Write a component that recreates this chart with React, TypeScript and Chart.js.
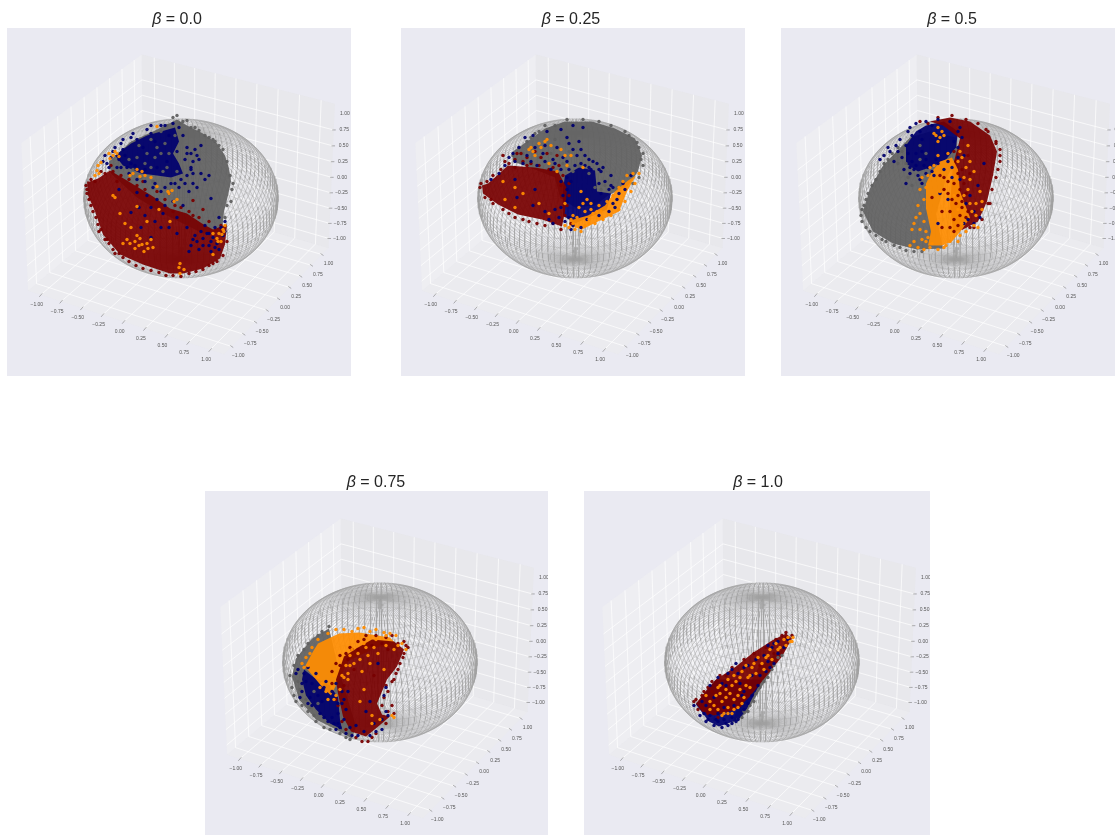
import React, { useEffect, useRef } from "react";
import { Chart, registerables } from "chart.js";

Chart.register(...registerables);

type Pt = [number, number];

// ---------- axes ----------
const tickValues = [-1, -0.75, -0.5, -0.25, 0, 0.25, 0.5, 0.75, 1];
const tickLabels = ["−1.00", "−0.75", "−0.50", "−0.25", "0.00", "0.25", "0.50", "0.75", "1.00"];
const betas = ["0.0", "0.25", "0.5", "0.75", "1.0"];

// ---------- beta = 0.0 ----------
const p1GreyRegion: Pt[] = [[-4,78],[6,72],[22,64],[36,54],[44,42],[48,29],[50,16],[47,2],[43,-14],[41,-34],[22,-36],[2,-26],[-18,-16],[-44,0],[-70,24],[-72,36],[-50,56],[-28,66]];
const p1NavyRegion: Pt[] = [[-6,70],[-2,56],[-8,44],[-2,34],[2,24],[-10,20],[-24,22],[-40,24],[-58,32],[-66,42],[-50,54],[-34,62],[-20,66]];
const p1MaroonRegion: Pt[] = [[-94,16],[-93,2],[-86,-14],[-78,-37],[-61,-57],[-38,-67],[-11,-76],[2,-76],[22,-71],[39,-61],[44,-47],[46,-27],[32,-32],[21,-26],[6,-16],[-11,-11],[-28,1],[-41,9],[-54,17],[-71,27],[-83,19],[-91,16]];
const p1Grey: Pt[] = [[-8,80],[-4,82],[2,76],[10,70],[18,67],[28,60],[38,52],[42,48],[49,22],[51,8],[50,-4],[46,36],[52,14],[46,-8],[44,-20],[14,70],[24,62],[32,58],[-14,72],[-20,66],[-26,40],[-14,30],[-40,20],[-28,16],[-10,18],[-34,44],[-6,62],[-1,74],[6,77],[34,56],[-48,28],[-30,30],[-20,44],[-44,40],[-16,54],[-36,34],[-24,50],[-12,44],[-52,38],[-30,58],[-42,52],[-18,26],[-4,26]];
const p1Navy: Pt[] = [[14,48],[18,38],[20,52],[16,42],[28,22],[24,18],[10,30],[30,-1],[12,14],[6,44],[-78,36],[-72,30],[-66,50],[-58,58],[-48,64],[-30,72],[-16,72],[-60,30],[-50,34],[22,-41],[26,-36],[30,-44],[18,-52],[34,-50],[40,-30],[42,-38],[38,-20],[14,-38],[10,-48],[24,-28],[-40,-30],[-30,-40],[-50,-15],[-20,-30],[-44,5],[-30,-10],[-18,-16],[-8,-4],[2,-8],[-62,8],[-12,-30],[6,-30],[-70,40],[-74,34],[-64,30],[-52,24],[-44,18],[-36,16],[-26,14],[-16,10],[-6,14],[6,22],[10,28],[4,38],[6,50],[2,62],[-2,70],[-8,74],[-20,72],[-34,68],[-50,60],[-60,54],[-68,46],[-56,42],[-46,32],[-36,28],[-24,30],[-14,36],[-4,46],[-26,56],[-38,50],[0,18],[-10,14],[-20,6],[-28,10],[8,6],[16,10],[20,24],[32,-40],[36,-46],[28,-36],[20,-34],[16,-44],[38,-52],[30,-54],[44,-24],[44,-34],[28,-48],[-42,-10],[-36,-18],[-26,-24],[-4,-20],[-16,-8],[-2,10],[4,14],[12,24],[-12,4],[-24,-2],[-34,2],[12,36],[10,44],[-58,48],[-44,58],[-30,64],[-12,62],[-62,38],[-76,42],[-54,30],[34,-30],[22,-48],[12,-42],[-4,-36],[8,-54]];
const p1Orange: Pt[] = [[-68,42],[-71,39],[-64,44],[-83,32],[-84,27],[-80,35],[-48,24],[-39,26],[-41,21],[-51,22],[-24,71],[-68,2],[-66,0],[-44,-9],[-61,-16],[-54,-42],[-46,-51],[-39,-47],[-34,-46],[-33,-51],[-41,-41],[-51,-46],[36,-41],[37,-44],[32,-36],[41,-37],[32,-57],[-1,-66],[-1,-76],[-9,7],[-7,-4],[-24,11],[-13,6],[-11,-24],[-34,-24],[44,-28],[43,-34],[-30,20],[-12,4],[-4,-2],[-66,46],[-62,41],[-72,44],[-82,24],[-86,22],[-46,-44],[-37,-54],[-44,-38],[-30,-42],[-42,-48],[-28,-50],[-58,-46],[-2,-70],[3,-72],[38,-36],[42,-32],[40,-44],[-44,28],[-36,22],[-56,-26],[-50,-30],[-22,-12]];
const p1Maroon: Pt[] = [[-95,12],[-94,4],[-90,-8],[-85,-20],[-80,-32],[-76,-42],[-68,-52],[-58,-60],[-45,-68],[-30,-73],[-15,-78],[0,-79],[15,-74],[28,-68],[36,-64],[-86,16],[-76,24],[-60,22],[-44,12],[-24,6],[-6,-8],[12,-18],[28,-24],[22,-12],[12,-3],[-74,-42],[-92,-2],[-88,-14],[-83,-27],[-72,-46],[-62,-56],[-52,-64],[-38,-71],[-22,-75],[-8,-78],[8,-76],[22,-72],[32,-66],[42,-58],[-90,18],[-80,26],[-68,26],[-52,18],[-36,8],[-16,-2],[0,-10],[18,-20],[40,-28],[46,-44],[-82,-34],[-66,-56],[-64,16],[-38,16],[-8,-14],[8,-14],[-94,8],[-70,32]];

// ---------- beta = 0.25 ----------
const p2GreyRegion: Pt[] = [[-30,69],[-10,76],[17,76],[40,69],[60,59],[67,42],[63,26],[53,12],[33,2],[20,-8],[0,-10],[-15,0],[-20,20],[-40,28],[-62,36],[-62,46],[-48,56]];
const p2NavyRegion: Pt[] = [[4,30],[20,27],[22,6],[36,4],[32,-12],[18,-18],[0,-26],[-12,-18],[-12,8],[-10,22]];
const p2OrangeRegion: Pt[] = [[61,22],[52,6],[44,-14],[23,-24],[7,-32],[-6,-28],[-5,-23],[13,-18],[30,-8],[40,6],[53,17]];
const p2MaroonRegion: Pt[] = [[-93,12],[-92,4],[-77,-7],[-57,-17],[-33,-22],[-13,-29],[-10,-14],[-8,9],[-17,26],[-40,30],[-67,32],[-78,22],[-87,14]];
const p2Grey: Pt[] = [[-40,64],[-48,56],[-20,58],[-6,46],[-24,44],[-36,40],[4,32],[14,24],[-30,72],[66,38],[68,32],[62,55],[50,66],[-52,44],[-12,34],[-20,72],[-8,78],[8,78],[24,76],[36,72],[54,62],[64,50],[68,44],[64,20],[58,14],[-36,66],[-44,60],[-56,50],[-62,42],[20,10],[26,8],[-2,26],[30,12],[42,10],[-28,58],[-18,50]];
const p2Navy: Pt[] = [[-56,50],[-62,44],[-50,60],[-42,62],[-28,66],[-14,68],[-2,72],[8,70],[-8,60],[-30,52],[-22,38],[-12,40],[-2,48],[14,38],[26,26],[24,14],[16,28],[-76,24],[-66,40],[-84,18],[-20,-12],[-30,-14],[-42,-8],[-58,0],[-40,8],[-60,18],[38,10],[44,4],[48,14],[56,22],[-22,-26],[-70,32],[-60,36],[-48,42],[-40,50],[-32,44],[-18,50],[-8,36],[2,42],[10,32],[18,36],[28,30],[30,16],[36,12],[42,-2],[-14,28],[-20,34],[-4,16],[-14,16],[-12,2],[-14,-10],[-16,-20],[-26,-22],[-10,-24],[-4,-32],[6,-30],[40,-10],[50,8],[-30,36],[-44,36],[-52,34],[-6,54],[6,48],[4,56],[-8,-4],[-8,8],[-8,20],[0,32],[6,34],[14,30],[24,28],[26,4],[34,8],[38,-6],[34,-14],[24,-18],[12,-22],[-2,-28],[-6,-20],[-6,28],[10,42],[22,34],[36,22],[-24,28],[-38,32]];
const p2Orange: Pt[] = [[-46,48],[-40,42],[-34,50],[-36,54],[-28,58],[-24,52],[-14,48],[-4,42],[-8,32],[8,30],[-18,26],[-26,34],[-60,10],[-72,16],[-52,4],[-36,-6],[-26,-16],[4,-10],[8,-6],[12,-2],[2,-20],[-2,-26],[16,-12],[14,-22],[22,-14],[-70,-2],[-10,-6],[6,6],[-44,50],[-42,46],[-30,56],[-10,42],[52,22],[58,24],[48,16],[-6,-30],[0,-32],[6,-34],[10,-28],[-4,-22],[20,-26],[28,-22],[36,-18],[44,-12],[50,-4],[56,6],[60,14],[64,24],[-10,-28],[-2,-18],[10,-14],[-60,-10],[16,-6],[24,-8],[18,-16],[32,-4],[38,2],[44,10],[14,-26],[26,-14]];
const p2Maroon: Pt[] = [[-95,10],[-90,0],[-82,-6],[-72,-12],[-60,-20],[-46,-24],[-30,-28],[-14,-32],[-54,44],[-44,34],[-34,40],[-26,28],[-16,32],[-60,38],[-72,42],[-40,46],[-94,14],[-88,16],[-82,22],[-74,28],[-66,34],[-52,36],[-36,32],[-22,30],[-12,22],[-6,14],[-6,2],[-8,-8],[-84,-2],[-66,-16],[-52,-22],[-38,-26],[-22,-26],[-70,36],[-48,40],[-28,44],[-58,44],[-18,42],[-4,-26],[-60,30],[-48,32],[-14,12],[-10,-18]];

// ---------- beta = 0.5 ----------
const p3GreyRegion: Pt[] = [[-46,60],[-73,32],[-86,9],[-93,-14],[-83,-34],[-63,-46],[-39,-52],[-13,-51],[-20,-17],[-10,19],[2,40],[0,60],[-26,66]];
const p3NavyRegion: Pt[] = [[-30,72],[-12,76],[2,66],[0,50],[-10,38],[-26,30],[-38,26],[-50,34],[-50,52],[-40,66]];
const p3MaroonRegion: Pt[] = [[-26,76],[-6,80],[14,76],[34,62],[41,46],[37,22],[31,-4],[22,-24],[7,-32],[-3,-34],[-6,-7],[-3,32],[4,59],[-13,72]];
const p3OrangeRegion: Pt[] = [[-16,36],[-4,40],[2,28],[4,6],[14,-20],[6,-32],[-4,-44],[-14,-48],[-28,-48],[-25,-34],[-30,-11],[-30,14],[-24,26]];
const p3Grey: Pt[] = [[-92,-8],[-95,-18],[-90,-30],[-80,-38],[-70,-44],[-56,-50],[-42,-54],[-88,4],[-80,18],[-72,34],[-64,44],[-94,-24],[-86,-34],[-74,-42],[-62,-48],[-50,-53],[-34,-54],[-90,-2],[-84,12],[-76,26],[-68,38],[-58,50],[-94,-12],[-58,34],[-48,20],[-44,12],[-36,38],[-54,46],[-36,52],[-30,44],[-50,34]];
const p3Navy: Pt[] = [[-72,42],[-76,38],[-60,52],[-46,70],[-40,32],[-46,24],[-50,14],[-34,14],[-22,22],[-16,4],[-8,-2],[4,18],[10,-6],[14,2],[12,-22],[8,-26],[18,-14],[22,12],[28,34],[24,-20],[-18,-26],[-4,20],[8,42],[18,-26],[-66,46],[-56,58],[-48,66],[-40,74],[-30,76],[-18,78],[-6,76],[4,70],[6,60],[2,50],[2,40],[-8,36],[-18,34],[-30,24],[-38,22],[-46,30],[-54,40],[-58,46],[-62,36],[-36,18],[-52,28],[-12,28],[-24,26],[-4,30],[-44,36],[-68,50],[-30,38],[-50,52],[-44,62],[-36,66],[-34,46],[-40,44],[-48,44],[-28,30],[-20,38],[-10,44],[-2,56],[2,66],[-34,58],[-24,72],[-14,66],[-42,28],[-32,32]];
const p3Orange: Pt[] = [[-20,62],[-16,60],[-22,64],[-14,66],[-40,-20],[-36,-32],[-30,-44],[-26,-50],[-44,-32],[-46,-48],[-32,-52],[-18,-52],[-10,-48],[2,-44],[6,40],[10,30],[14,18],[18,26],[20,-6],[26,-12],[12,52],[-2,2],[2,-12],[-16,6],[-18,70],[-12,62],[-18,56],[-34,20],[-36,8],[-38,-8],[-36,-16],[-32,-24],[-26,30],[-18,42],[-8,44],[4,46],[2,36],[8,20],[12,8],[14,-6],[20,-18],[18,-28],[10,-34],[4,-38],[-6,-44],[-24,-46],[-38,-50],[-42,-44],[-28,-40],[24,6],[22,-30],[26,-4],[-42,-26],[14,36],[-32,-2],[-30,10],[-28,22],[-22,32],[-30,-34],[-34,-42],[-12,-50],[6,-26],[16,-14],[8,2]];
const p3Maroon: Pt[] = [[2,24],[4,8],[-4,-2],[6,-10],[10,-20],[-2,-22],[14,-30],[0,36],[-8,16],[8,14],[44,36],[44,48],[30,68],[40,56],[34,-6],[42,28],[-14,-14],[-24,0],[12,42],[-12,20],[-28,74],[-36,76],[-18,80],[-4,82],[10,78],[22,74],[32,66],[40,54],[44,42],[40,20],[36,8],[32,-6],[26,-22],[18,-30],[6,-4],[12,-14],[2,-28],[10,4],[14,24],[6,28],[-2,46],[-6,-14],[0,-6],[-16,22],[4,-18],[-2,14],[-8,4],[-2,-34],[-6,-30],[-14,-30],[-12,8],[2,2]];

// ---------- beta = 0.75 ----------
const p4GreyRegion: Pt[] = [[-51,33],[-68,23],[-84,3],[-88,-15],[-81,-38],[-64,-58],[-44,-68],[-28,-77],[-24,-65],[-41,-9]];
const p4NavyRegion: Pt[] = [[-76,-8],[-66,-16],[-50,-24],[-42,-36],[-40,-58],[-38,-68],[-50,-62],[-64,-48],[-74,-34],[-78,-18]];
const p4OrangeRegion: Pt[] = [[-62,18],[-41,28],[-21,29],[10,24],[20,13],[-1,15],[-31,1],[-43,-22],[-49,-34],[-59,-24],[-75,-5],[-67,10]];
const p4MaroonRegion: Pt[] = [[-8,22],[14,20],[24,12],[17,-5],[7,-18],[-3,-42],[2,-53],[10,-55],[-3,-66],[-14,-75],[-29,-70],[-37,-55],[-42,-32],[-44,-18],[-36,5],[-22,14]];
const p4Grey: Pt[] = [[-51,35],[-58,30],[-72,18],[-86,-4],[-88,-26],[-84,-40],[-72,-50],[-56,-66],[-40,-72],[-66,-30],[-70,-46],[-62,26],[-76,12],[-82,6],[-90,-14],[-86,-34],[-78,-44],[-64,-60],[-50,-68],[-34,-76],[-80,-28],[-74,-38],[-62,-42],[-30,-78],[-82,-20],[-66,-54]];
const p4Navy: Pt[] = [[-82,-8],[-74,-20],[-70,-36],[-58,-40],[-48,-56],[-42,-62],[-34,-72],[-22,-74],[-10,-74],[-6,-62],[2,-58],[-16,-70],[-14,-50],[-10,-40],[4,-34],[6,-26],[-2,-2],[-32,-30],[-38,-42],[8,-54],[-84,-12],[-78,-22],[-78,-30],[-68,-44],[-60,-52],[-52,-60],[-44,-68],[-36,-58],[-34,-48],[-36,-38],[-38,-30],[-44,-22],[-54,-20],[-64,-12],[-72,-6],[-30,-66],[-28,-74],[-24,-64],[-4,-70],[2,-68],[6,-50],[-76,-12],[-68,-22],[-56,-26],[-48,-30],[-42,-42],[-42,-52],[-80,-36],[-72,-42],[-62,-34],[-56,-56],[-46,-62],[-40,-66]];
const p4Orange: Pt[] = [[-22,33],[-10,30],[4,29],[-28,30],[-36,32],[10,28],[18,16],[-14,14],[-22,8],[-4,22],[-48,-26],[-44,-34],[-52,-38],[-30,-4],[-32,-12],[-8,-62],[12,-54],[14,-56],[0,-58],[-20,-40],[-18,-10],[-2,8],[-10,-2],[-62,22],[-52,28],[-44,32],[-68,14],[-74,4],[-78,-2],[-58,-22],[-46,-14],[-36,-16],[-40,-28],[22,18],[26,12],[16,26],[-16,34],[-4,32],[-30,6],[-26,-2],[-20,2],[-12,6],[-8,-54],[-16,-28],[4,-8],[-70,8],[-72,-4],[-62,-16],[-54,-30],[-46,-38],[-38,-14],[-34,-4],[-28,12],[-16,18],[-6,14],[6,16],[14,12],[-60,-26],[-76,-6],[6,26],[-32,-18]];
const p4Maroon: Pt[] = [[26,16],[24,8],[20,-2],[16,-12],[12,-20],[8,-30],[2,-44],[8,-50],[-4,-72],[-12,-80],[-24,-76],[-34,-68],[-4,26],[6,24],[-28,12],[-34,8],[-40,-4],[-30,14],[-48,-10],[-16,22],[23,4],[18,-8],[14,-18],[6,-24],[4,-36],[12,-44],[14,-52],[6,-62],[-8,-76],[-18,-80],[-38,-60],[-42,-44],[-44,-38],[-48,-22],[28,14],[24,20],[12,26],[-14,26],[-22,20],[-32,2],[-26,-8],[-6,-14],[-8,16],[2,18],[-40,6],[-44,-2],[-36,-24],[-22,12],[8,12],[18,18]];

// ---------- beta = 1.0 ----------
const p5GreyRegion: Pt[] = [[24,15],[4,-18],[-16,-52],[-30,-62],[-23,-42],[-3,-5]];
const p5NavyRegion: Pt[] = [[-66,-43],[-53,-60],[-43,-65],[-23,-58],[-15,-47],[0,-18],[-46,-18]];
const p5MaroonRegion: Pt[] = [[30,23],[24,28],[10,21],[-10,8],[-26,-5],[-46,-18],[-55,-28],[-66,-42],[-60,-50],[-48,-54],[-26,-48],[-13,-36],[4,-15],[20,5]];
const p5Grey: Pt[] = [[2,-20],[-6,-32],[-12,-44],[-18,-50],[-24,-58],[10,-8],[16,4],[-2,-26],[6,-16],[-14,-50],[-8,-40],[12,-4],[20,6],[-20,-56]];
const p5Navy: Pt[] = [[-68,-44],[-62,-54],[-56,-60],[-48,-64],[-40,-66],[-30,-62],[-24,-58],[-44,-60],[-36,-62],[-52,-54],[-18,-48],[-10,-34],[-4,-24],[4,-10],[12,-2],[22,14],[10,14],[2,6],[16,20],[-14,-4],[-30,-8],[-44,-16],[-52,-24],[-60,-40],[-22,-22],[-10,-14],[6,0],[26,22],[-34,-64],[-26,-60],[-54,-58],[-58,-52],[-46,-58],[-30,-56],[-38,-58],[-44,-52],[-18,-30],[-48,-36],[-36,-24],[-26,-2],[-6,2],[-2,-14],[16,8],[12,18],[6,16],[-38,-46],[-14,-42],[-56,-44],[8,-6],[-24,-12],[-34,-12],[-18,-6],[-40,-22],[-20,-34],[-28,-44]];
const p5Orange: Pt[] = [[31,24],[28,20],[24,16],[26,24],[14,18],[16,12],[8,12],[4,4],[-4,4],[-8,-2],[-16,-4],[-20,-10],[-12,-14],[-28,-14],[-34,-18],[-42,-24],[-36,-28],[-30,-24],[-22,-28],[-46,-34],[-52,-40],[-40,-40],[-34,-46],[-28,-38],[-24,-46],[-18,-36],[-12,-26],[-6,-12],[-44,-48],[-30,-52],[-56,-34],[-40,-54],[2,-8],[10,2],[-26,-20],[-36,-36],[-42,-32],[-32,-32],[-48,-44],[-38,-52],[-24,-34],[-16,-24],[-10,-6],[0,-2],[6,6],[18,14],[22,22],[30,20],[-22,-16],[-44,-26],[-20,-42],[-34,-52],[-52,-48],[-28,-48],[-14,-16]];
const p5Maroon: Pt[] = [[24,29],[20,26],[-54,-26],[-60,-34],[-66,-38],[-64,-48],[-50,-30],[-38,-34],[-26,-32],[-14,-20],[-2,-4],[-22,-44],[-46,-44],[-36,-14],[12,8],[-68,-40],[-58,-30],[-50,-20],[-42,-14],[-30,-6],[-18,2],[-8,8],[4,14],[14,22],[24,24],[30,26],[-60,-46],[-54,-52],[-44,-56],[-32,-48],[-40,-28]];

// ---------- one record per panel ----------
const greys = [p1Grey, p2Grey, p3Grey, p4Grey, p5Grey];
const navies = [p1Navy, p2Navy, p3Navy, p4Navy, p5Navy];
const oranges = [p1Orange, p2Orange, p3Orange, p4Orange, p5Orange];
const maroons = [p1Maroon, p2Maroon, p3Maroon, p4Maroon, p5Maroon];
const C = { grey: "#606060", navy: "#00006e", orange: "#ff8c00", maroon: "#780000" };
const regionLists: [Pt[], string][][] = [
  [[p1GreyRegion, C.grey], [p1NavyRegion, C.navy], [p1MaroonRegion, C.maroon]],
  [[p2GreyRegion, C.grey], [p2NavyRegion, C.navy], [p2OrangeRegion, C.orange], [p2MaroonRegion, C.maroon]],
  [[p3GreyRegion, C.grey], [p3NavyRegion, C.navy], [p3MaroonRegion, C.maroon], [p3OrangeRegion, C.orange]],
  [[p4GreyRegion, C.grey], [p4NavyRegion, C.navy], [p4OrangeRegion, C.orange], [p4MaroonRegion, C.maroon]],
  [[p5GreyRegion, C.grey], [p5NavyRegion, C.navy], [p5MaroonRegion, C.maroon]],
];

// left, top, width, height of each panel, then the sphere centre and the title centre
const panels = [
  { l: 7, t: 28, w: 344, h: 348, cx: 181, cy: 197.5, tx: 177 },
  { l: 401, t: 28, w: 344, h: 348, cx: 575, cy: 197.5, tx: 571 },
  { l: 781, t: 28, w: 344, h: 348, cx: 956, cy: 197.5, tx: 952 },
  { l: 205, t: 491, w: 343, h: 348, cx: 380, cy: 661.5, tx: 376 },
  { l: 584, t: 491, w: 346, h: 348, cx: 762, cy: 661.5, tx: 758 },
];
const TITLE_BAND = 28;

// ---------- the axes' own 3D projection (elevation 30, azimuth -60) ----------
const LIM = 1.157;
const BOX = [1.1429, 1.1429, 0.8572];
const UNITS = 1965;
const nV = [0.433, -0.75, 0.5];
const uV = [0.866, 0.5, 0];
const vV = [-0.25, 0.433, 0.866];
const dot = (a: number[], b: number[]) => a[0] * b[0] + a[1] * b[1] + a[2] * b[2];
function project(x: number, y: number, z: number) {
  const p = [x, y, z].map((c, i) => ((c + LIM) / (2 * LIM) - 0.5) * BOX[i]);
  const d = 10 - dot(p, nV);
  return { x: (dot(p, uV) / d) * UNITS, y: (dot(p, vV) / d) * UNITS };
}
const GAP = { x: NaN, y: NaN };
const xyz = (a: number[][]) => a.map(([x, y, z]) => project(x, y, z));

// The guide sphere is the unit sphere of the plot, a geometric reference and not read-off data.
const MERIDIANS = 100;
const PARALLELS = 24;
const MESH_STEPS = 72;
function sphereLines(count: number, isMeridian: boolean) {
  const lines: { x: number; y: number }[][] = [];
  for (let i = isMeridian ? 0 : 1; i < count; i++) {
    const a: { x: number; y: number }[] = [];
    for (let s = 0; s <= MESH_STEPS; s++) {
      const t = (s / MESH_STEPS) * Math.PI;
      const lon = (i / count) * 2 * Math.PI;
      const lat = (i / count) * Math.PI;
      a.push(isMeridian
        ? project(Math.cos(lon) * Math.sin(t), Math.sin(lon) * Math.sin(t), Math.cos(t))
        : project(Math.cos(2 * t) * Math.sin(lat), Math.sin(2 * t) * Math.sin(lat), Math.cos(lat)));
    }
    lines.push(a);
  }
  return lines;
}
const meridianLines = sphereLines(MERIDIANS, true);
const parallelLines = sphereLines(PARALLELS, false);

const L = LIM;
const paneX = xyz([[-L,-L,-L],[-L,L,-L],[-L,L,L],[-L,-L,L]]);
const paneY = xyz([[-L,L,-L],[L,L,-L],[L,L,L],[-L,L,L]]);
const paneZ = xyz([[-L,-L,-L],[L,-L,-L],[L,L,-L],[-L,L,-L]]);
const grid: { x: number; y: number }[] = [];
for (const t of tickValues) {
  grid.push(...xyz([[t,-L,-L],[t,L,-L],[t,L,L]]), GAP);
  grid.push(...xyz([[L,t,-L],[-L,t,-L],[-L,t,L]]), GAP);
  grid.push(...xyz([[-L,-L,t],[-L,L,t],[L,L,t]]), GAP);
}
const offset = (p: { x: number; y: number }, dx: number, dy: number) => ({ x: p.x + dx, y: p.y + dy });
const tickBases = {
  x: tickValues.map((t) => project(t, -L, -L)),
  y: tickValues.map((t) => project(L, t, -L)),
  z: tickValues.map((t) => project(L, L, t)),
};
const tickMarks: { x: number; y: number }[] = [];
tickBases.x.forEach((p) => tickMarks.push(offset(p, -1.5, -2), offset(p, 1.5, 1.5), GAP));
tickBases.y.forEach((p) => tickMarks.push(offset(p, -1.5, 1), offset(p, 1.5, -1), GAP));
tickBases.z.forEach((p) => tickMarks.push(offset(p, -1.5, 0), offset(p, 2, 0), GAP));

const toXY = (a: Pt[]) => a.map(([x, y]) => ({ x, y }));

function buildDatasets(i: number) {
  const line = (data: any[], extra: any) => ({
    data, showLine: true, pointRadius: 0, borderWidth: 0, tension: 0, spanGaps: false, ...extra,
  });
  const sets: any[] = [
    line(paneX, { fill: "shape", backgroundColor: "rgba(242,242,242,0.5)" }),
    line(paneY, { fill: "shape", backgroundColor: "rgba(230,230,230,0.5)" }),
    line(paneZ, { fill: "shape", backgroundColor: "rgba(236,236,236,0.5)" }),
    line(grid, { borderColor: "#ffffff", borderWidth: 0.7 }),
    line(tickMarks, { borderColor: "#666666", borderWidth: 0.5 }),
  ];
  meridianLines.forEach((w) => sets.push(line(w, { borderColor: "rgb(160,160,160)", borderWidth: 0.5 })));
  parallelLines.forEach((w) => sets.push(line(w, { borderColor: "rgb(160,160,160)", borderWidth: 0.3 })));
  regionLists[i].forEach(([r, c]) =>
    sets.push(line(toXY(r), { fill: "shape", backgroundColor: c + "ec" })));
  const pts = (a: Pt[], c: string) => ({ data: toXY(a), pointRadius: 1.7, pointBorderWidth: 0, pointBackgroundColor: c + "f0" });
  sets.push(pts(greys[i], C.grey), pts(maroons[i], C.maroon), pts(navies[i], C.navy), pts(oranges[i], C.orange));
  return sets.map((s, k) => ({ ...s, order: sets.length - k }));
}

function decoPlugin(i: number) {
  return {
    id: "panelDeco" + i,
    beforeDraw(chart: any) {
      const { ctx, chartArea: a } = chart;
      ctx.save();
      ctx.fillStyle = "#EAEAF2";
      ctx.fillRect(a.left, a.top, a.right - a.left, a.bottom - a.top);
      ctx.restore();
    },
    afterDraw(chart: any) {
      const { ctx, scales } = chart;
      ctx.save();
      ctx.fillStyle = "#555555";
      ctx.font = '5px "Liberation Sans"';
      ctx.textAlign = "center";
      ctx.textBaseline = "middle";
      const put = (p: { x: number; y: number }, dx: number, dy: number, s: string) =>
        ctx.fillText(s, scales.x.getPixelForValue(p.x + dx), scales.y.getPixelForValue(p.y + dy));
      tickBases.x.forEach((p, k) => put(p, -4, -10, tickLabels[k]));
      tickBases.y.forEach((p, k) => put(p, 6.5, -9, tickLabels[k]));
      tickBases.z.forEach((p, k) => put(p, 10.5, 0, tickLabels[k]));
      const pn = panels[i];
      const rest = " = " + betas[i];
      ctx.fillStyle = "#262626";
      ctx.textAlign = "left";
      ctx.textBaseline = "alphabetic";
      ctx.font = 'italic 16px "Liberation Sans"';
      const w1 = ctx.measureText("β").width;
      ctx.font = '16px "Liberation Sans"';
      const w2 = ctx.measureText(rest).width;
      const x0 = pn.tx - pn.l - (w1 + w2) / 2;
      ctx.font = 'italic 16px "Liberation Sans"';
      ctx.fillText("β", x0, TITLE_BAND - 4);
      ctx.font = '16px "Liberation Sans"';
      ctx.fillText(rest, x0 + w1, TITLE_BAND - 4);
      ctx.restore();
    },
  };
}

function Panel({ i }: { i: number }) {
  const ref = useRef<HTMLCanvasElement>(null);
  const pn = panels[i];
  useEffect(() => {
    const chart = new Chart(ref.current as HTMLCanvasElement, {
      type: "scatter",
      data: { datasets: buildDatasets(i) },
      plugins: [decoPlugin(i)],
      options: {
        animation: false,
        responsive: false,
        parsing: false,
        layout: { autoPadding: false, padding: { top: TITLE_BAND, left: 0, right: 0, bottom: 0 } },
        plugins: { legend: { display: false }, tooltip: { enabled: false } },
        events: [],
        scales: {
          x: { type: "linear", display: false, min: pn.l - pn.cx, max: pn.l + pn.w - pn.cx },
          y: { type: "linear", display: false, min: pn.cy - pn.t - pn.h, max: pn.cy - pn.t },
        },
      },
    } as any);
    return () => chart.destroy();
  }, []);
  return (
    <canvas
      ref={ref}
      width={pn.w}
      height={pn.h + TITLE_BAND}
      style={{ position: "absolute", left: pn.l, top: pn.t - TITLE_BAND, display: "block", filter: "blur(0.35px)" }}
    />
  );
}

export default function App() {
  return (
    <div style={{ position: "absolute", left: 0, top: 0, width: 1115, height: 835, overflow: "hidden", background: "#fff" }}>
      {panels.map((_, i) => (
        <Panel key={i} i={i} />
      ))}
    </div>
  );
}
